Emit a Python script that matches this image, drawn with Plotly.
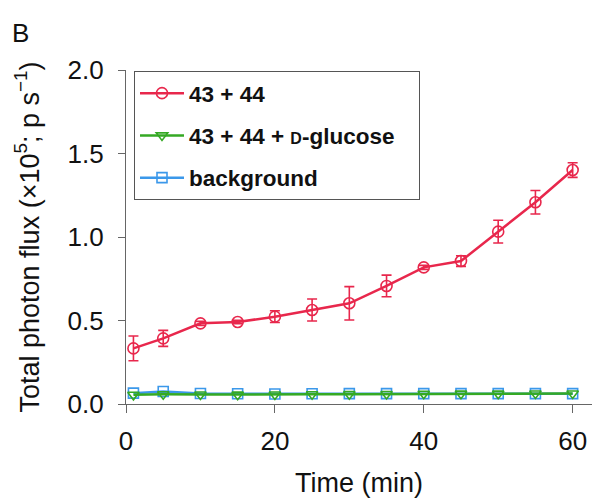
import plotly.graph_objects as go

time_min = [1, 5, 10, 15, 20, 25, 30, 35, 40, 45, 50, 55, 60]
flux_43_44 = [0.333, 0.393, 0.483, 0.491, 0.523, 0.563, 0.603, 0.707, 0.818, 0.856, 1.032, 1.208, 1.401]
err_43_44 = [0.074, 0.048, 0.012, 0.010, 0.035, 0.066, 0.100, 0.065, 0.012, 0.032, 0.068, 0.070, 0.044]
flux_glucose = [0.055, 0.058, 0.057, 0.056, 0.057, 0.058, 0.059, 0.060, 0.061, 0.062, 0.062, 0.063, 0.063]
flux_background = [0.065, 0.075, 0.063, 0.061, 0.060, 0.061, 0.062, 0.062, 0.062, 0.062, 0.062, 0.062, 0.062]

RED = "#e8274c"
GREEN = "#35a924"
BLUE = "#3b98ea"
AXIS = "#666666"
FONT = "Liberation Sans, Arial, sans-serif"

L, R, T, B = 126, 0, 70, 94
PW, PH = 592 - L - R, 498 - T - B

fig = go.Figure()

fig.add_trace(go.Scatter(
    x=time_min, y=flux_background, name="background", mode="lines+markers",
    line=dict(color=BLUE, width=2.5),
    marker=dict(symbol="square-open", size=10, color=BLUE, line=dict(width=1.6)),
    legendgroup="c", legendrank=3, cliponaxis=False))
fig.add_trace(go.Scatter(
    x=time_min, y=flux_glucose,
    name="43 + 44 + <span style='font-size:16px'>D</span>-glucose&nbsp;&nbsp;&nbsp;",
    mode="lines+markers",
    line=dict(color=GREEN, width=2.5),
    marker=dict(symbol="triangle-down-open", size=10, color=GREEN, line=dict(width=1.6)),
    legendgroup="b", legendrank=2, cliponaxis=False))
fig.add_trace(go.Scatter(
    x=time_min, y=flux_43_44, name="43 + 44", mode="lines+markers",
    line=dict(color=RED, width=2.5),
    marker=dict(symbol="circle-open", size=11, color=RED, line=dict(width=1.6)),
    error_y=dict(type="data", array=err_43_44, color=RED, thickness=1.6, width=5),
    legendgroup="a", legendrank=1, cliponaxis=False))

fig.update_layout(
    width=592, height=498,
    margin=dict(l=L, r=R, t=T, b=B, autoexpand=False),
    paper_bgcolor="white", plot_bgcolor="white",
    font=dict(family=FONT, color="#111111"),
    showlegend=True,
    legend=dict(
        x=8 / PW, y=1 - 1 / PH, xanchor="left", yanchor="top",
        bordercolor="#555555", borderwidth=1, bgcolor="white",
        font=dict(size=22.5, color="#111111", family=FONT, weight="bold"),
        traceorder="grouped", tracegroupgap=10, itemwidth=44,
    ),
    xaxis=dict(
        range=[0, 62.6], tickvals=[0, 20, 40, 60], showgrid=False, zeroline=False,
        showline=True, linecolor=AXIS, linewidth=1.2,
        ticks="outside", ticklen=8, tickcolor=AXIS, tickwidth=1.2,
        tickfont=dict(size=26, color="#111111"), ticklabelstandoff=6,
        automargin=False,
        title=dict(text="Time (min)", font=dict(size=27, color="#111111"), standoff=24),
    ),
    yaxis=dict(
        range=[0, 2.0], tickvals=[0, 0.5, 1.0, 1.5, 2.0], ticktext=["0.0", "0.5", "1.0", "1.5", "2.0"],
        showgrid=False, zeroline=False,
        showline=True, linecolor=AXIS, linewidth=1.2,
        ticks="outside", ticklen=7, tickcolor=AXIS, tickwidth=1.2,
        tickfont=dict(size=26, color="#111111"), ticklabelstandoff=9,
        automargin=False,
        title=dict(text="Total photon flux (×10<sup>5</sup>; p s<sup>−1</sup>)",
                   font=dict(size=27, color="#111111"), standoff=20),
    ),
    annotations=[dict(text="B", x=-(L - 10) / PW, y=1 + (T - 16) / PH,
                      xref="paper", yref="paper", showarrow=False,
                      font=dict(size=26, color="#111111"), xanchor="left", yanchor="top")],
)

fig.write_html("out.html", config={"displayModeBar": False},
               post_script="document.body.style.margin='0';document.body.style.overflow='hidden';")
